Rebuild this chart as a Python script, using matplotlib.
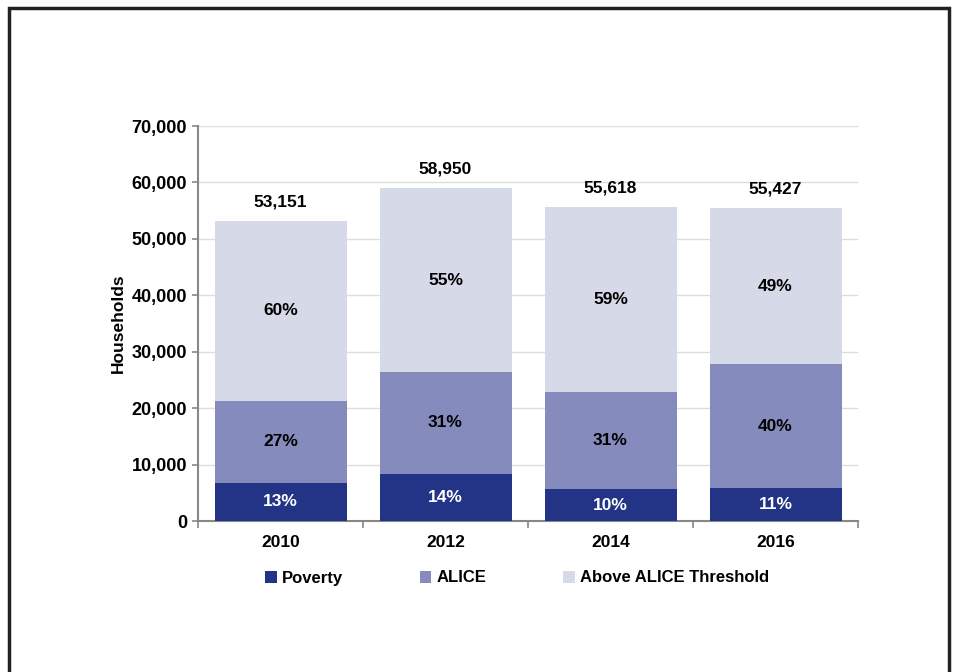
import matplotlib.pyplot as plt
import numpy as np
from matplotlib.patches import Rectangle

plt.rcParams['font.family'] = ['Liberation Sans', 'DejaVu Sans']
plt.rcParams['font.weight'] = 'bold'

# data
years = ['2010', '2012', '2014', '2016']
totals = [53151, 58950, 55618, 55427]
poverty = [6750, 8300, 5650, 5850]
alice = [14550, 18150, 17200, 21950]
poverty_pct = ['13%', '14%', '10%', '11%']
alice_pct = ['27%', '31%', '31%', '40%']
above_pct = ['60%', '55%', '59%', '49%']

above = [t - p - a for t, p, a in zip(totals, poverty, alice)]

c_pov = '#233487'
c_alice = '#858bbd'
c_above = '#d6d9e8'

fs = 12.5

fig = plt.figure(figsize=(9.56, 6.72), dpi=100)
ax = fig.add_axes([198/956, 1 - 521/672, 660/956, 395/672])

x = np.arange(len(years))
w = 0.8
b1 = ax.bar(x, poverty, w, color=c_pov, label='Poverty', zorder=3)
b2 = ax.bar(x, alice, w, bottom=poverty, color=c_alice, label='ALICE', zorder=3)
bottom2 = [p + a for p, a in zip(poverty, alice)]
b3 = ax.bar(x, above, w, bottom=bottom2, color=c_above,
            label='Above ALICE Threshold', zorder=3)

# labels inside bars
for i in range(len(years)):
    ax.text(x[i], poverty[i] / 2, poverty_pct[i], ha='center', va='center',
            color='white', fontsize=fs, fontweight='bold', zorder=4)
    ax.text(x[i], poverty[i] + alice[i] / 2, alice_pct[i], ha='center', va='center',
            color='black', fontsize=fs, fontweight='bold', zorder=4)
    ax.text(x[i], bottom2[i] + above[i] / 2, above_pct[i], ha='center', va='center',
            color='black', fontsize=fs, fontweight='bold', zorder=4)
    ax.text(x[i], totals[i] + 2100, f'{totals[i]:,}', ha='center', va='bottom',
            color='black', fontsize=fs, fontweight='bold', zorder=4)

ax.set_xlim(-0.5, 3.5)
ax.set_ylim(0, 70000)
ax.set_yticks(np.arange(0, 70001, 10000))
ax.set_yticklabels([f'{v:,}' for v in range(0, 70001, 10000)])
ax.set_xticks(x)
ax.set_xticklabels(years)
ax.set_xticks(np.arange(-0.5, 3.6, 1), minor=True)
ax.tick_params(axis='x', which='major', length=0, pad=10, labelsize=fs)
ax.tick_params(axis='x', which='minor', length=5, color='#888888', width=1.2)
ax.tick_params(axis='y', length=4, color='#888888', width=1.2, labelsize=13, pad=4)

ax.grid(axis='y', color='#dddddd', linewidth=1, zorder=0)
for s in ['top', 'right']:
    ax.spines[s].set_visible(False)
for s in ['left', 'bottom']:
    ax.spines[s].set_color('#888888')
    ax.spines[s].set_linewidth(1.5)

ax.set_ylabel('Households', fontsize=fs, fontweight='bold', labelpad=4)

leg = fig.legend(handles=[b1, b2, b3], loc='center', bbox_to_anchor=(517/956, 1 - 578/672),
                 ncol=3, frameon=False, fontsize=12, handlelength=0.7, handleheight=0.7,
                 handletextpad=0.3, columnspacing=4.6)

# outer frame
fig.patches.append(Rectangle((9/956, -0.1), 940/956, 1.1 - 8/672, transform=fig.transFigure,
                             fill=False, edgecolor='#222222', linewidth=2.5, clip_on=False))

fig.savefig('out.png', dpi=100)
